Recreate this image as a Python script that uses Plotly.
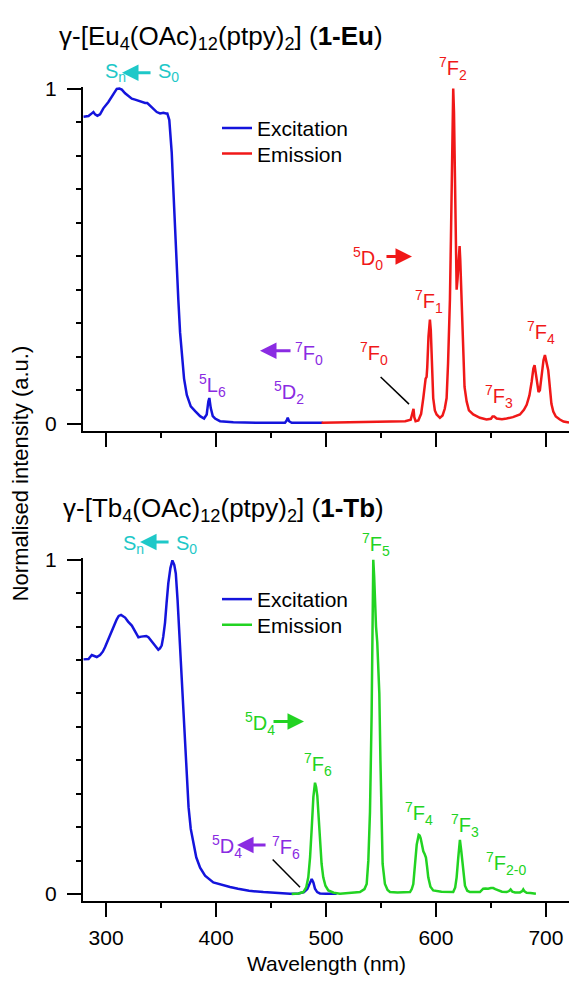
import plotly.graph_objects as go

# ---------------- data ----------------
# Eu complex: excitation spectrum (nm, normalised)
eu_exc_nm = [279.5, 281, 284, 287, 288.5, 290, 292.1, 294.5, 297.5, 302.1, 306.6, 309.7, 312.1,
             314.3, 317.3, 320.3, 323.4, 326.4, 329.4, 332.5, 335.5, 337.5, 340, 343, 346.1,
             349.1, 352.1, 354.5, 355.7, 357.5, 358.8, 359.7, 360.6, 361.8, 363, 364.3, 365.7,
             367.3, 369.1, 370.9, 373.4, 377, 381, 385.5, 389.1, 391.5, 393, 393.9, 395.2, 397,
             399.1, 403.6, 415.7, 427.9, 440, 455.2, 462.7, 464.2, 465.2, 466.4, 468.8, 485.5, 497]
eu_exc_int = [0.916, 0.916, 0.918, 0.926, 0.930, 0.923, 0.919, 0.923, 0.941, 0.960, 0.984, 0.999,
              1.0, 0.997, 0.986, 0.977, 0.970, 0.967, 0.963, 0.960, 0.957, 0.957, 0.950, 0.941,
              0.930, 0.926, 0.928, 0.926, 0.926, 0.906, 0.857, 0.809, 0.740, 0.643, 0.545, 0.467,
              0.370, 0.272, 0.194, 0.135, 0.086, 0.052, 0.038, 0.023, 0.016, 0.028, 0.067, 0.077,
              0.047, 0.023, 0.016, 0.008, 0.005, 0.0035, 0.003, 0.003, 0.0035, 0.010, 0.018,
              0.008, 0.003, 0.003, 0.003]

# Eu complex: emission spectrum
eu_em_nm = [496, 520, 540, 560, 572, 577, 578.8, 579.6, 580.3, 581.5, 584, 586.5, 588.5, 589.6,
            590.6, 591.5, 592.1, 593.2, 594.5, 595.3, 596.1, 597, 597.5, 599, 600.6, 603.6, 606,
            608, 609.7, 611, 612.7, 613.6, 614.3, 615, 615.7, 616.4, 617.2, 618.2, 618.8, 619.6,
            620.3, 621, 621.5, 622.1, 622.7, 623.5, 624.8, 626, 627.9, 630, 633.9, 640, 646, 650,
            651.5, 653, 655.2, 660, 664.3, 670, 676.4, 680, 682.5, 685, 687, 688.6, 689.7, 690.8,
            692.1, 693.3, 694.5, 695.6, 696.6, 697.8, 699.1, 700, 700.6, 701.4, 702.1, 703, 703.6,
            705, 706.7, 709, 712.7, 716, 721]
eu_em_int = [0.003, 0.004, 0.005, 0.006, 0.008, 0.012, 0.03, 0.045, 0.02, 0.008, 0.01, 0.03, 0.077,
             0.12, 0.135, 0.14, 0.17, 0.26, 0.311, 0.28, 0.223, 0.12, 0.077, 0.04, 0.028, 0.018,
             0.025, 0.045, 0.077, 0.18, 0.37, 0.55, 0.76, 0.93, 1.0, 0.93, 0.7, 0.45, 0.40, 0.43,
             0.47, 0.52, 0.53, 0.49, 0.43, 0.30, 0.174, 0.11, 0.067, 0.04, 0.028, 0.018, 0.013,
             0.015, 0.022, 0.022, 0.016, 0.014, 0.016, 0.02, 0.028, 0.042, 0.057, 0.085, 0.125,
             0.165, 0.175, 0.15, 0.11, 0.095, 0.10, 0.13, 0.165, 0.19, 0.205, 0.19, 0.18, 0.175,
             0.16, 0.13, 0.10, 0.06, 0.037, 0.022, 0.013, 0.007, 0.004]

# Tb complex: excitation spectrum
tb_exc_nm = [279.5, 281, 284, 287, 289, 291.5, 294.5, 297, 299.1, 302, 305.2, 307.5, 309.7, 311.5,
             313.6, 315.5, 317.3, 320, 323.4, 326.5, 329.4, 332, 334, 336.5, 338.5, 341, 343, 345.5,
             347.5, 349, 350.6, 352, 353.6, 355, 356.6, 358.5, 360.3, 362, 363.4, 365, 366.3, 367.3,
             369, 370.5, 372, 373.4, 375, 377, 379.4, 382, 385.5, 390, 397.5, 405, 412.7, 420, 430,
             443, 455, 467.3, 475, 480, 483, 485.3, 487, 488.5, 490, 492, 494.5, 500, 509.7]
tb_exc_int = [0.702, 0.702, 0.703, 0.715, 0.712, 0.709, 0.715, 0.725, 0.739, 0.76, 0.783, 0.805,
              0.822, 0.832, 0.835, 0.83, 0.827, 0.815, 0.803, 0.785, 0.768, 0.770, 0.770, 0.772,
              0.768, 0.758, 0.749, 0.738, 0.731, 0.735, 0.744, 0.77, 0.812, 0.87, 0.930, 0.975,
              0.998, 0.985, 0.959, 0.88, 0.80, 0.715, 0.63, 0.56, 0.44, 0.343, 0.26, 0.195, 0.148,
              0.11, 0.079, 0.055, 0.035, 0.027, 0.021, 0.016, 0.010, 0.006, 0.003, 0.001, 0.002,
              0.006, 0.015, 0.035, 0.045, 0.035, 0.016, 0.006, 0.002, 0.001, 0.001]

# Tb complex: emission spectrum
tb_em_nm = [468.8, 475, 479.4, 482, 483.9, 485.5, 487, 488.5, 490, 491, 492.1, 493.3, 494.5, 496,
            497.5, 499.5, 502.1, 507, 512.7, 520, 530.9, 535, 537, 538.5, 540, 541.5, 542.3, 543,
            543.8, 544.5, 545.5, 546.6, 547.5, 548.5, 549.5, 550.6, 551.5, 553.6, 556, 558.2, 565,
            576.4, 578, 579.4, 581, 582.5, 584.3, 585.2, 586.1, 587.3, 588.5, 589.7, 590.9, 592,
            593, 595, 597.5, 605, 615.7, 617.5, 618.8, 620.3, 621.8, 623, 624.2, 625.3, 626.4,
            628.5, 630.9, 640, 643, 645, 647.5, 650, 652.1, 654, 656.6, 660, 664.3, 666.5, 667.9,
            669.5, 672, 676.4, 678.5, 679.4, 680.5, 682.5, 686, 690.9]
tb_em_int = [0.0, 0.002, 0.006, 0.02, 0.05, 0.11, 0.196, 0.29, 0.333, 0.32, 0.294, 0.22, 0.148,
             0.09, 0.05, 0.025, 0.011, 0.004, 0.001, 0.003, 0.006, 0.015, 0.03, 0.1, 0.245, 0.538,
             0.8, 1.0, 0.95, 0.88, 0.80, 0.754, 0.70, 0.60, 0.40, 0.17, 0.09, 0.03, 0.012, 0.006,
             0.005, 0.006, 0.015, 0.03, 0.08, 0.148, 0.177, 0.175, 0.167, 0.145, 0.128, 0.12,
             0.109, 0.08, 0.05, 0.022, 0.011, 0.007, 0.006, 0.02, 0.05, 0.11, 0.162, 0.13, 0.089,
             0.05, 0.025, 0.01, 0.006, 0.006, 0.016, 0.017, 0.016, 0.018, 0.018, 0.015, 0.011,
             0.007, 0.006, 0.009, 0.014, 0.007, 0.005, 0.005, 0.009, 0.014, 0.008, 0.004, 0.003,
             0.001]

x_ticks = [300, 400, 500, 600, 700]
y_ticks = [0, 1]
y_ticktext = ["0", "1"]

# ---------------- styling ----------------
FONT = "Liberation Sans, Arial, sans-serif"
BLUE = "#1414DC"
RED = "#F01818"
GREEN = "#22D322"
PURPLE = "#8A2BE2"
CYAN = "#1EC8C8"

W, H = 569, 981
X_RANGE = [279, 721]
Y_RANGE = [-0.021, 1.005]
LW = 2.5

fig = go.Figure()
fig.add_trace(go.Scatter(x=eu_exc_nm, y=eu_exc_int, mode="lines", name="Excitation",
                         line=dict(color=BLUE, width=LW), xaxis="x", yaxis="y", legend="legend"))
fig.add_trace(go.Scatter(x=eu_em_nm, y=eu_em_int, mode="lines", name="Emission",
                         line=dict(color=RED, width=LW), xaxis="x", yaxis="y", legend="legend2"))
fig.add_trace(go.Scatter(x=tb_exc_nm, y=tb_exc_int, mode="lines", name="Excitation",
                         line=dict(color=BLUE, width=LW), xaxis="x2", yaxis="y2",
                         legend="legend3"))
fig.add_trace(go.Scatter(x=tb_em_nm, y=tb_em_int, mode="lines", name="Emission",
                         line=dict(color=GREEN, width=LW), xaxis="x2", yaxis="y2",
                         legend="legend4"))


def xaxis_style(anchor, labels):
    return dict(anchor=anchor, range=X_RANGE, domain=[83 / W, 1], showline=True, linewidth=2,
                linecolor="black", ticks="outside", ticklen=14, tickwidth=2, tickcolor="black",
                tickmode="array", tickvals=x_ticks, showticklabels=labels, showgrid=False,
                zeroline=False, tickfont=dict(size=21, color="black", family=FONT),
                ticklabelstandoff=3,
                minor=dict(ticks="outside", dtick=50, tick0=0, ticklen=5, tickwidth=2,
                           tickcolor="black", showgrid=False))


def yaxis_style(anchor, domain):
    return dict(anchor=anchor, range=Y_RANGE, domain=domain, showline=True, linewidth=2,
                linecolor="black", ticks="outside", ticklen=14, tickwidth=2, tickcolor="black",
                tickmode="array", tickvals=y_ticks, ticktext=y_ticktext, showgrid=False,
                zeroline=False, tickfont=dict(size=21, color="black", family=FONT),
                ticklabelstandoff=6,
                minor=dict(ticks="outside", dtick=0.1, tick0=0, ticklen=5, tickwidth=2,
                           tickcolor="black", showgrid=False))


def legend_at(y_px):
    # one legend entry centred at a given pixel height
    return dict(x=217 / W, xanchor="left", y=1 - y_px / H, yanchor="middle",
                bgcolor="rgba(0,0,0,0)", font=dict(size=21, family=FONT, color="black"))


fig.update_layout(
    width=W, height=H, margin=dict(l=0, r=0, t=0, b=0),
    paper_bgcolor="white", plot_bgcolor="white",
    font=dict(family=FONT, size=21, color="black"),
    xaxis=xaxis_style("y", False),
    yaxis=yaxis_style("x", [1 - 427 / H, 1 - 78 / H]),
    xaxis2=xaxis_style("y2", True),
    yaxis2=yaxis_style("x2", [1 - 904 / H, 1 - 556 / H]),
    showlegend=True,
    legend=legend_at(120),
    legend2=legend_at(146),
    legend3=legend_at(598),
    legend4=legend_at(624),
)

ann = []


def in_domain(v):
    # intensity value -> fraction of the panel height (works above the axis range too)
    return (v - Y_RANGE[0]) / (Y_RANGE[1] - Y_RANGE[0])


def label(text, x, y, color, xref="x", yref="y", size=20):
    ann.append(dict(text=text, x=x, y=in_domain(y), xref=xref, yref=yref + " domain",
                    xanchor="left", yanchor="middle", showarrow=False,
                    font=dict(size=size, color=color)))


def arrow(x, y, ax, color, xref="x", yref="y"):
    ann.append(dict(text="", x=x, y=in_domain(y), xref=xref, yref=yref + " domain", ax=ax, ay=0,
                    axref="pixel", ayref="pixel", showarrow=True, arrowhead=2, arrowsize=1.1,
                    arrowwidth=3, arrowcolor=color, standoff=0, startstandoff=0))


# panel titles
ann.append(dict(text="γ-[Eu<sub>4</sub>(OAc)<sub>12</sub>(ptpy)<sub>2</sub>] (<b>1-Eu</b>)",
                x=57 / W, y=1 - 28 / H, xref="paper", yref="paper", xanchor="left",
                yanchor="middle", showarrow=False, font=dict(size=26, color="black")))
ann.append(dict(text="γ-[Tb<sub>4</sub>(OAc)<sub>12</sub>(ptpy)<sub>2</sub>] (<b>1-Tb</b>)",
                x=61 / W, y=1 - 507 / H, xref="paper", yref="paper", xanchor="left",
                yanchor="middle", showarrow=False, font=dict(size=26, color="black")))
# axis titles
ann.append(dict(text="Normalised intensity (a.u.)", x=20 / W, y=1 - 470 / H, xref="paper",
                yref="paper", textangle=-90, showarrow=False, xanchor="center",
                yanchor="middle", font=dict(size=22, color="black")))
ann.append(dict(text="Wavelength (nm)", x=326 / W, y=1 - 967 / H, xref="paper", yref="paper",
                showarrow=False, xanchor="center", yanchor="middle",
                font=dict(size=21, color="black")))

# Eu panel annotations
label("S<sub>n</sub>", 297.3, 1.047, CYAN)
arrow(314.5, 1.047, 30, CYAN)
label("S<sub>0</sub>", 345.5, 1.047, CYAN)
label("<sup>7</sup>F<sub>2</sub>", 600.9, 1.059, RED)
label("<sup>5</sup>D<sub>0</sub>", 522.7, 0.493, RED)
arrow(578.2, 0.499, -27, RED)
label("<sup>7</sup>F<sub>1</sub>", 579.1, 0.365, RED)
label("<sup>7</sup>F<sub>0</sub>", 529.1, 0.209, RED)
label("<sup>7</sup>F<sub>3</sub>", 642.7, 0.081, RED)
label("<sup>7</sup>F<sub>4</sub>", 680.9, 0.271, RED)
arrow(440, 0.218, 32, PURPLE)
label("<sup>7</sup>F<sub>0</sub>", 470, 0.209, PURPLE)
label("<sup>5</sup>L<sub>6</sub>", 382.7, 0.113, PURPLE)
label("<sup>5</sup>D<sub>2</sub>", 450.9, 0.093, PURPLE)

# Tb panel annotations
label("S<sub>n</sub>", 313.6, 1.047, CYAN, "x2", "y2")
arrow(330.9, 1.053, 30, CYAN, "x2", "y2")
label("S<sub>0</sub>", 361.8, 1.047, CYAN, "x2", "y2")
label("<sup>7</sup>F<sub>5</sub>", 530.9, 1.047, GREEN, "x2", "y2")
label("<sup>5</sup>D<sub>4</sub>", 424.5, 0.510, GREEN, "x2", "y2")
arrow(480, 0.516, -32, GREEN, "x2", "y2")
label("<sup>7</sup>F<sub>6</sub>", 478.2, 0.387, GREEN, "x2", "y2")
label("<sup>7</sup>F<sub>4</sub>", 570, 0.240, GREEN, "x2", "y2")
label("<sup>7</sup>F<sub>3</sub>", 611.8, 0.205, GREEN, "x2", "y2")
label("<sup>7</sup>F<sub>2-0</sub>", 643.6, 0.091, GREEN, "x2", "y2")
label("<sup>5</sup>D<sub>4</sub>", 394.5, 0.141, PURPLE, "x2", "y2")
arrow(419.1, 0.147, 30, PURPLE, "x2", "y2")
label("<sup>7</sup>F<sub>6</sub>", 449.1, 0.138, PURPLE, "x2", "y2")

fig.update_layout(annotations=ann)

# pointer lines to the weak transitions
fig.add_shape(type="line", xref="x", yref="y", x0=549.7, y0=0.140, x1=575.5, y1=0.059,
              line=dict(color="black", width=1.5))
fig.add_shape(type="line", xref="x2", yref="y2", x0=451.5, y0=0.1035, x1=476.4, y1=0.0205,
              line=dict(color="black", width=1.5))

fig.write_html("out.html")
